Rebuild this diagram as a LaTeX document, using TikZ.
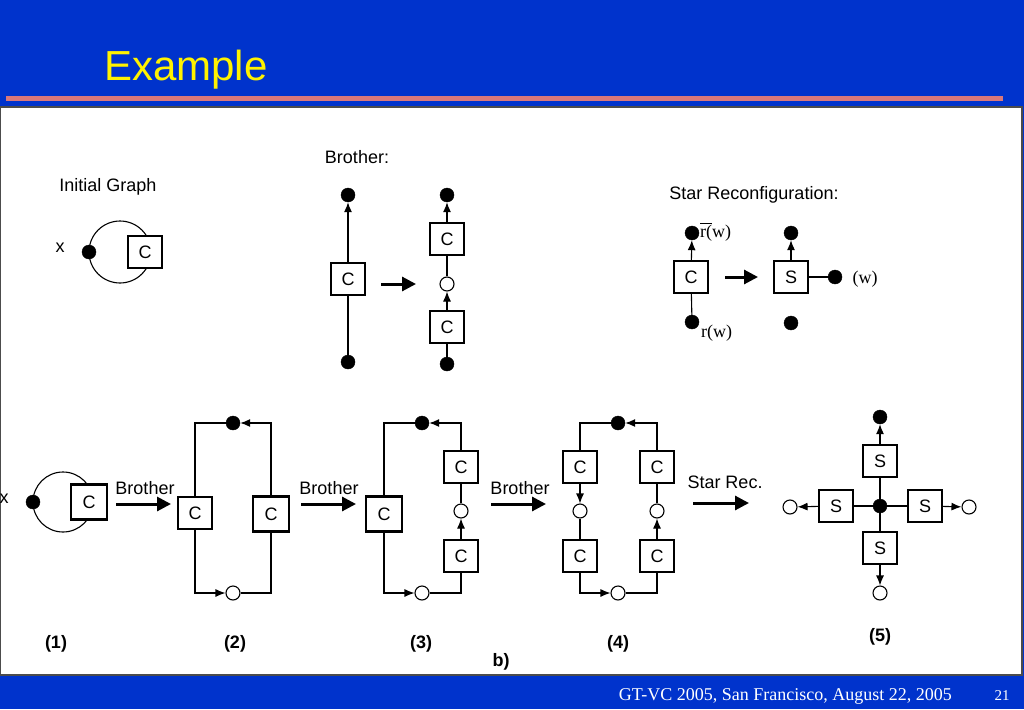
\documentclass[tikz,border=0pt]{standalone}
\usepackage{fontspec}
\setmainfont{Liberation Sans}
\newfontfamily\tms{Liberation Serif}
\usetikzlibrary{arrows.meta}
\definecolor{slideblue}{RGB}{0,51,204}
\definecolor{salmon}{RGB}{217,120,122}
\newcommand{\fs}[1]{\fontsize{#1}{#1}\selectfont}
\tikzset{
  box/.style={draw, fill=white, minimum width=34pt, minimum height=32pt, inner sep=0pt, line width=1.1pt, font=\fs{18}},
  tbox/.style={box, line width=2.6pt, minimum width=36pt, minimum height=35pt},
  bdot/.style={circle, fill=black, draw=black, minimum size=14pt, inner sep=0pt},
  odot/.style={circle, fill=white, draw=black, line width=1.1pt, minimum size=14pt, inner sep=0pt},
  conn/.style={line width=1.1pt},
  arr/.style={conn, -{Latex[length=10pt,width=8pt]}},
  bigarr/.style={line width=3pt, -{Triangle[length=14pt,width=14pt]}},
  lbl/.style={inner sep=0pt, font=\fs{18}},
  blbl/.style={inner sep=0pt, font=\fs{18}\bfseries},
  slbl/.style={inner sep=0pt, font=\tms\fs{18}}
}
\begin{document}
\begin{tikzpicture}[x=1pt,y=-1pt]
\useasboundingbox (0,0) rectangle (1024,709);
% background
\fill[slideblue] (0,0) rectangle (1024,709);
\node[inner sep=0pt, anchor=base west, text=yellow, font=\fs{42}] (title) at (104,80) {Example};
\fill[salmon] (6,96) rectangle (1003,101);
\draw[fill=white, draw=black!70, line width=1.2pt] (0.6,107) rectangle (1022,675);
\node[inner sep=0pt, anchor=base east, text=white, font=\tms\fs{18}] (foot) at (952,700) {GT-VC 2005, San Francisco, August 22, 2005};
\node[inner sep=0pt, anchor=base, text=white, font=\tms\fs{15}] (page) at (1002,700) {21};

% ---------- Initial graph
\node[lbl] (ig) at (108,187) {Initial Graph};
\draw[conn] (120,252) circle (31);
\node[bdot] (igd) at (89,252) {};
\node[box] (igc) at (145,252) {C};
\node[lbl] (igx) at (60,248) {x};

% ---------- Brother rule
\node[lbl] (br) at (357,157) {Brother:};
\node[bdot] (b1t) at (348,195) {};
\node[box] (b1c) at (348,279) {C};
\node[bdot] (b1b) at (348,362) {};
\draw[arr] (b1c) -- (b1t);
\draw[conn] (b1c) -- (b1b);
\coordinate (ba1) at (381,284);
\coordinate (ba2) at (416,284);
\draw[bigarr] (ba1) -- (ba2);
\node[bdot] (b2t) at (447,195) {};
\node[box] (b2u) at (447,239) {C};
\node[odot] (b2o) at (447,284) {};
\node[box] (b2l) at (447,327) {C};
\node[bdot] (b2b) at (447,364) {};
\draw[arr] (b2u) -- (b2t);
\draw[conn] (b2u) -- (b2o);
\draw[arr] (b2l) -- (b2o);
\draw[conn] (b2l) -- (b2b);

% ---------- Star reconfiguration rule
\node[lbl] (sr) at (754,195) {Star Reconfiguration:};
\node[bdot] (s1t) at (692,233) {};
\node[box] (s1c) at (691,277) {C};
\node[bdot] (s1b) at (692,322) {};
\draw[arr] (s1c) -- (s1t);
\draw[conn] (s1c) -- (s1b);
\node[slbl, anchor=base west] (rbar) at (700,237) {\rlap{\rule[13.5pt]{12pt}{0.8pt}}r(w)};
\node[slbl, anchor=base west] (rw) at (701,337) {r(w)};
\coordinate (sa1) at (725,277);
\coordinate (sa2) at (758,277);
\draw[bigarr] (sa1) -- (sa2);
\node[bdot] (s2t) at (791,233) {};
\node[box] (s2c) at (791,277) {S};
\node[bdot] (s2r) at (835,277) {};
\node[bdot] (s2b) at (791,323) {};
\draw[arr] (s2c) -- (s2t);
\draw[conn] (s2c) -- (s2r);
\node[slbl] (w) at (865,279) {(w)};

% ---------- (1)
\draw[conn] (63,502) circle (30);
\node[bdot] (g1d) at (33,502) {};
\node[tbox] (g1c) at (89,502) {C};
\node[lbl] (g1x) at (4,499) {x};
\node[lbl] (lb1) at (145,488) {Brother};
\coordinate (a1s) at (116,504);
\coordinate (a1e) at (171,504);
\draw[bigarr] (a1s) -- (a1e);

% ---------- (2)
\node[box] (g2l) at (195,513) {C};
\node[tbox] (g2r) at (271,514) {C};
\node[bdot] (g2t) at (233,423) {};
\node[odot] (g2b) at (233,593) {};
\draw[arr] (g2r.north) |- (g2t);
\draw[conn] (g2t) -| (g2l.north);
\draw[arr] (g2l.south) |- (g2b);
\draw[conn] (g2b) -| (g2r.south);
\node[lbl] (lb2) at (329,488) {Brother};
\coordinate (a2s) at (301,504);
\coordinate (a2e) at (356,504);
\draw[bigarr] (a2s) -- (a2e);

% ---------- (3)
\node[tbox] (g3l) at (384,514) {C};
\node[box] (g3u) at (461,467) {C};
\node[odot] (g3o) at (461,511) {};
\node[box] (g3d) at (461,556) {C};
\node[bdot] (g3t) at (422,423) {};
\node[odot] (g3b) at (422,593) {};
\draw[arr] (g3u.north) |- (g3t);
\draw[conn] (g3t) -| (g3l.north);
\draw[arr] (g3l.south) |- (g3b);
\draw[conn] (g3b) -| (g3d.south);
\draw[arr] (g3d) -- (g3o);
\draw[conn] (g3o) -- (g3u);
\node[lbl] (lb3) at (520,488) {Brother};
\coordinate (a3s) at (491,504);
\coordinate (a3e) at (546,504);
\draw[bigarr] (a3s) -- (a3e);

% ---------- (4)
\node[box] (g4lu) at (580,467) {C};
\node[odot] (g4lo) at (580,511) {};
\node[box] (g4ld) at (580,556) {C};
\node[box] (g4ru) at (657,467) {C};
\node[odot] (g4ro) at (657,511) {};
\node[box] (g4rd) at (657,556) {C};
\node[bdot] (g4t) at (618,423) {};
\node[odot] (g4b) at (618,593) {};
\draw[arr] (g4ru.north) |- (g4t);
\draw[conn] (g4t) -| (g4lu.north);
\draw[arr] (g4lu) -- (g4lo);
\draw[conn] (g4lo) -- (g4ld);
\draw[arr] (g4ld.south) |- (g4b);
\draw[conn] (g4b) -| (g4rd.south);
\draw[arr] (g4rd) -- (g4ro);
\draw[conn] (g4ro) -- (g4ru);
\node[lbl] (lb4) at (725,482) {Star Rec.};
\coordinate (a4s) at (693,503);
\coordinate (a4e) at (749,503);
\draw[bigarr] (a4s) -- (a4e);

% ---------- (5)
\node[bdot] (g5c) at (880,506) {};
\node[box] (g5t) at (880,461) {S};
\node[box] (g5d) at (880,548) {S};
\node[box] (g5l) at (836,506) {S};
\node[box] (g5r) at (925,506) {S};
\draw[conn] (g5c) -- (g5t);
\draw[conn] (g5c) -- (g5d);
\draw[conn] (g5c) -- (g5l);
\draw[conn] (g5c) -- (g5r);
\node[bdot] (g5tt) at (880,417) {};
\node[odot] (g5ll) at (790,507) {};
\node[odot] (g5rr) at (969,507) {};
\node[odot] (g5dd) at (880,593) {};
\draw[arr] (g5t) -- (g5tt);
\draw[arr] (g5l) -- (g5ll);
\draw[arr] (g5r) -- (g5rr);
\draw[arr] (g5d) -- (g5dd);

% ---------- captions
\node[blbl] (c1) at (56,644) {(1)};
\node[blbl] (c2) at (235,644) {(2)};
\node[blbl] (c3) at (421,644) {(3)};
\node[blbl] (c4) at (618,644) {(4)};
\node[blbl] (c5) at (880,637) {(5)};
\node[blbl] (cb) at (501,662) {b)};
\end{tikzpicture}
\end{document}
